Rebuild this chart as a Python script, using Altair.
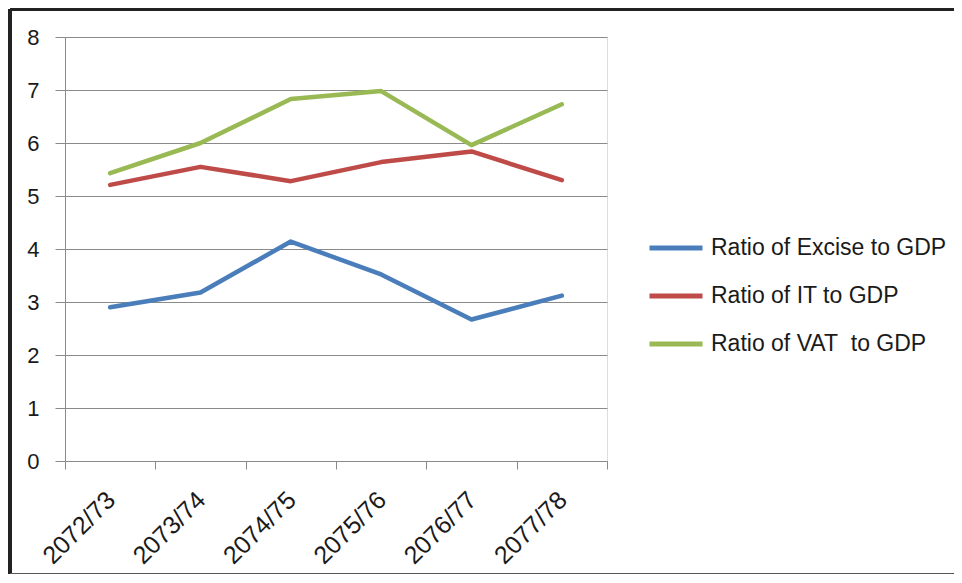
import altair as alt
import pandas as pd

years = ["2072/73", "2073/74", "2074/75", "2075/76", "2076/77", "2077/78"]
excise = [2.90, 3.18, 4.14, 3.52, 2.67, 3.12]
it = [5.21, 5.55, 5.28, 5.64, 5.84, 5.30]
vat = [5.43, 6.00, 6.83, 6.98, 5.96, 6.73]
series_names = ["Ratio of Excise to GDP", "Ratio of IT to GDP", "Ratio of VAT\u00a0 to GDP"]
series_colors = ["#4a7ebb", "#be4b48", "#98b954"]

rows = []
for name, vals in zip(series_names, [excise, it, vat]):
    for y, v in zip(years, vals):
        rows.append({"Year": y, "Series": name, "Value": v})
df = pd.DataFrame(rows)

FONT = "Liberation Sans"
TXT = "#1a1a1a"
GRID = "#8a8a8a"

lines = alt.Chart(df).mark_line(strokeWidth=4.5, strokeCap="round", strokeJoin="round").encode(
    x=alt.X("Year:N", sort=years,
            scale=alt.Scale(type="band", paddingInner=0, paddingOuter=0),
            axis=alt.Axis(title=None, labelAngle=-45, tickBand="extent", grid=False,
                          labelFontSize=25, labelFont=FONT, labelColor=TXT,
                          tickSize=8, tickColor=GRID, domainColor=GRID,
                          labelPadding=18, labelOffset=-8)),
    y=alt.Y("Value:Q", scale=alt.Scale(domain=[0, 8], nice=False),
            axis=alt.Axis(title=None, values=list(range(0, 9)), grid=True, gridColor=GRID,
                          labelFontSize=22, labelFont=FONT, labelColor=TXT,
                          tickSize=10, tickColor=GRID, domainColor=GRID,
                          labelPadding=16)),
    color=alt.Color("Series:N", sort=series_names,
                    scale=alt.Scale(domain=series_names, range=series_colors),
                    legend=alt.Legend(title=None, orient="none", legendX=582, legendY=182,
                                      symbolType="stroke", symbolSize=2809, symbolStrokeWidth=5,
                                      labelFontSize=23, labelFont=FONT, labelColor=TXT,
                                      labelLimit=0, labelOffset=6, rowPadding=7,
                                      padding=0, offset=0)),
)

frame_left = alt.Chart(df).mark_rule(color="#222222", strokeWidth=3).encode(
    x=alt.value(-55), y=alt.value(-28), y2=alt.value(538))
frame_top = alt.Chart(df).mark_rule(color="#222222", strokeWidth=3).encode(
    x=alt.value(-55), x2=alt.value(900), y=alt.value(-28))
frame_bottom = alt.Chart(df).mark_rule(color="#555555", strokeWidth=2).encode(
    x=alt.value(-55), x2=alt.value(900), y=alt.value(537))

chart = alt.layer(lines, frame_left, frame_top, frame_bottom).properties(
    width=542, height=424,
    autosize=alt.AutoSizeParams(type="none"),
    padding={"left": 57, "top": 29, "right": 347, "bottom": 113},
).configure_view(stroke=None).configure(background="white")

chart.save("out.html", embed_options={"renderer": "svg", "actions": False})
